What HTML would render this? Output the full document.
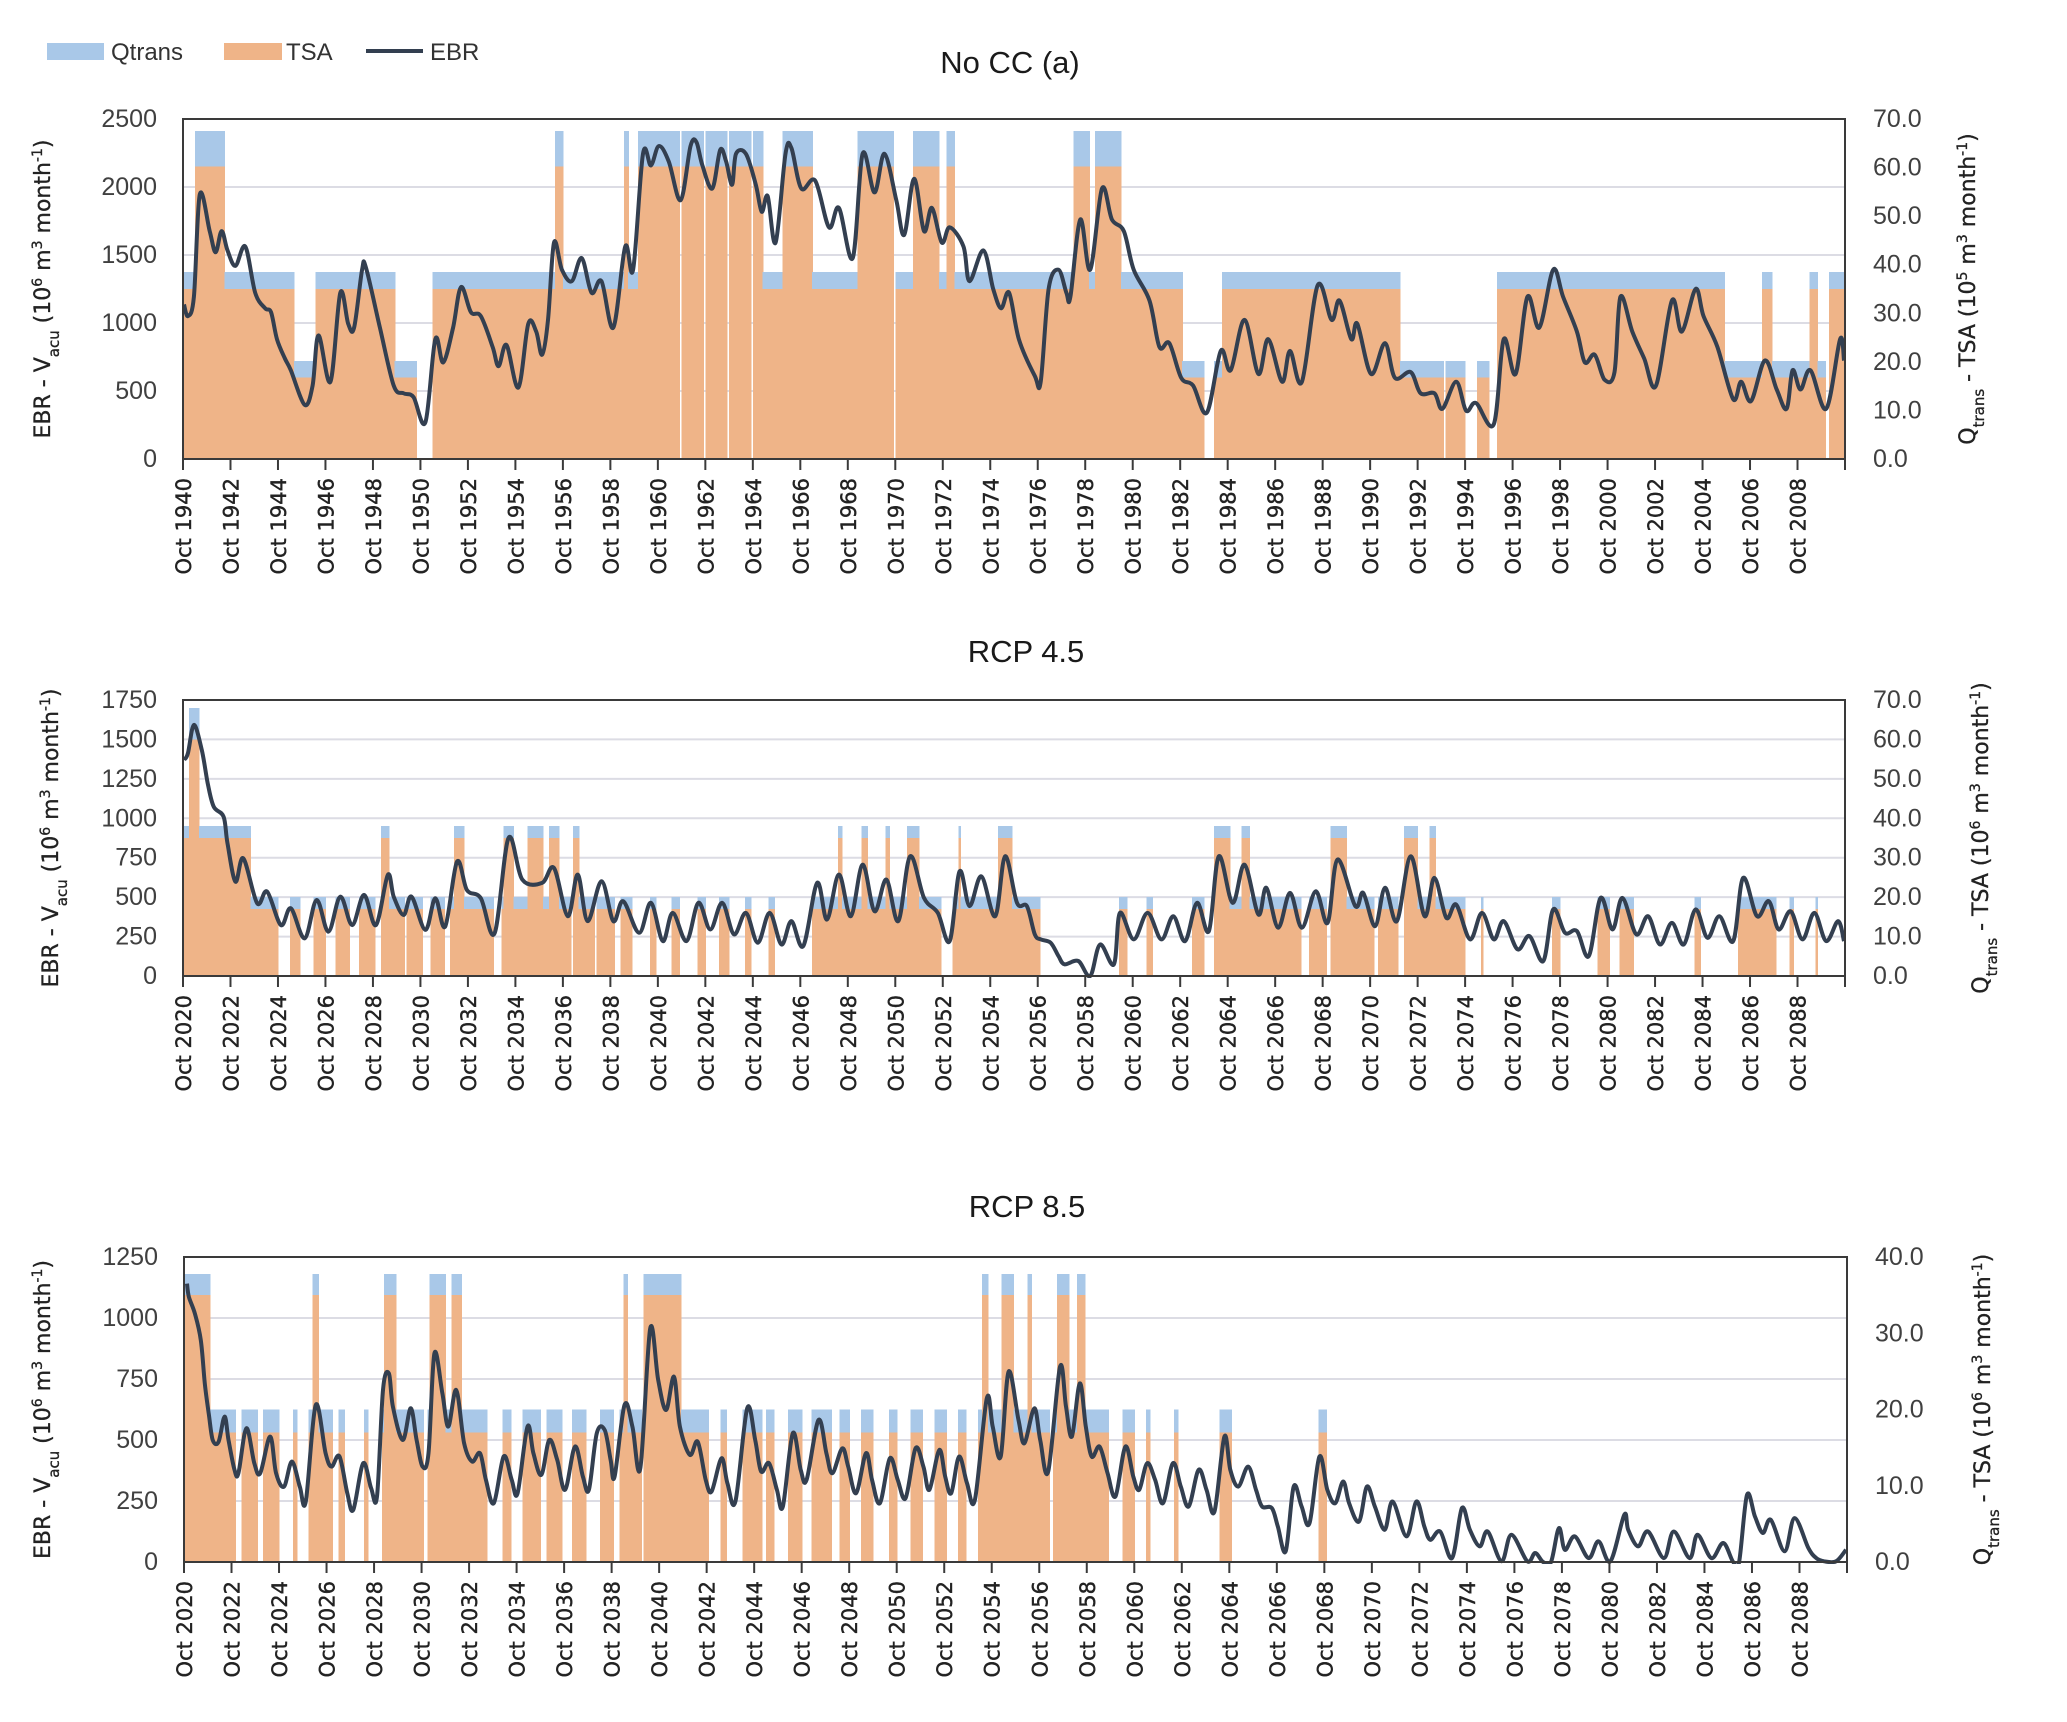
<!DOCTYPE html>
<html><head><meta charset="utf-8"><title>EBR charts</title>
<style>
html,body{margin:0;padding:0;background:#fff;}
svg{display:block;}
text{font-family:"Liberation Sans",sans-serif;fill:#333;}
.tick{font-size:25px;fill:#404040;}
.xl{font-family:"DejaVu Sans",sans-serif;font-size:21px;fill:#222;stroke:#222;stroke-width:0.4px;}
.ttl{font-size:31px;fill:#1a1a1a;}
.axt{font-family:"DejaVu Sans",sans-serif;font-size:22px;fill:#222;stroke:#222;stroke-width:0.3px;}
.leg{font-size:24px;fill:#333;}
</style></head>
<body>
<svg id="chart" width="2067" height="1722" viewBox="0 0 2067 1722" xmlns="http://www.w3.org/2000/svg">
  <g>
    <rect x="47" y="43" width="57" height="17" fill="#a9c8e8"/>
    <text class="leg" x="111" y="60">Qtrans</text>
    <rect x="224" y="43" width="58" height="17" fill="#efb488"/>
    <text class="leg" x="286" y="60">TSA</text>
    <line x1="366" y1="51" x2="423" y2="51" stroke="#333f50" stroke-width="4"/>
    <text class="leg" x="430" y="60">EBR</text>
  </g>
</svg>
<script>
// ---------- DATA ----------
const levelCodes = ['H','M','L'];
// panel 1: No CC (a)
const p1Years = [1940,1942,1944,1946,1948,1950,1952,1954,1956,1958,1960,1962,1964,1966,1968,1970,1972,1974,1976,1978,1980,1982,1984,1986,1988,1990,1992,1994,1996,1998,2000,2002,2004,2006,2008];
const p1LeftTicks = [0,500,1000,1500,2000,2500];
const p1RightTicks = [0,10,20,30,40,50,60,70];
const p1TsaLevel = [60.2,35,16.8];
const p1QLevel = [67.5,38.5,20.2];
const p1Runs = [[0,5,'M'],[6,20,'H'],[21,55,'M'],[56,66,'L'],[67,106,'M'],[107,117,'L'],[126,187,'M'],[188,191,'H'],[192,222,'M'],[223,224,'H'],[225,229,'M'],[230,250,'H'],[252,262,'H'],[264,274,'H'],[276,286,'H'],[288,292,'H'],[293,302,'M'],[303,317,'H'],[318,340,'M'],[341,358,'H'],[360,368,'M'],[369,381,'H'],[382,385,'M'],[386,389,'H'],[390,449,'M'],[450,457,'H'],[458,460,'M'],[461,473,'H'],[474,504,'M'],[505,515,'L'],[521,524,'L'],[525,614,'M'],[615,636,'L'],[638,647,'L'],[654,659,'L'],[664,778,'M'],[779,797,'L'],[798,802,'M'],[803,821,'L'],[822,825,'M'],[826,829,'L'],[832,839,'M']];
const p1EbrMonth = [0,2,5,8,13,16,19,22,26,31,36,41,44,47,51,54,61,65,68,74,79,83,86,90,92,99,106,111,116,122,127,131,136,140,145,150,156,159,163,169,174,178,181,184,187,191,196,201,206,211,217,223,227,232,236,240,245,251,256,259,262,267,271,274,277,279,284,289,292,295,299,304,307,312,319,326,331,338,343,349,354,360,364,369,374,378,383,387,394,397,404,409,413,417,422,430,433,437,442,446,448,453,458,464,469,475,480,488,493,498,504,510,517,524,529,536,543,548,555,559,565,573,580,584,590,593,600,607,612,620,625,632,636,643,648,653,662,667,673,679,685,692,697,704,708,713,718,723,726,732,738,744,752,757,764,768,775,783,787,792,799,805,810,813,817,822,830,837,839];
const p1EbrValue = [1136,1051,1193,1946,1676,1520,1676,1534,1420,1562,1222,1108,1080,880,739,653,398,540,909,568,1222,994,966,1392,1406,966,540,483,455,270,881,710,966,1264,1080,1051,824,682,838,526,994,937,767,1023,1591,1392,1307,1477,1222,1307,966,1562,1392,2244,2159,2301,2188,1903,2301,2330,2159,1989,2273,2188,2017,2244,2244,2017,1818,1932,1591,2244,2287,1989,2046,1704,1846,1477,2244,1960,2244,1903,1648,2060,1676,1846,1591,1704,1562,1307,1534,1250,1108,1222,880,611,568,1250,1392,1222,1193,1761,1392,1989,1761,1676,1392,1165,824,852,597,540,341,795,653,1023,625,881,568,795,568,1278,1023,1165,881,994,625,852,597,639,483,483,369,568,355,412,256,881,625,1193,966,1392,1193,937,710,767,582,639,1193,937,739,540,1165,937,1250,1051,824,440,568,426,724,511,369,653,511,653,369,881,724];

// panel 2: RCP 4.5
const p2Years = [2020,2022,2024,2026,2028,2030,2032,2034,2036,2038,2040,2042,2044,2046,2048,2050,2052,2054,2056,2058,2060,2062,2064,2066,2068,2070,2072,2074,2076,2078,2080,2082,2084,2086,2088];
const p2LeftTicks = [0,250,500,750,1000,1250,1500,1750];
const p2RightTicks = [0,10,20,30,40,50,60,70];
const p2TsaLevel = [60,35,17];
const p2QLevel = [68,38,20];
const p2Runs = [[0,2,'M'],[3,7,'H'],[8,33,'M'],[34,47,'L'],[54,58,'L'],[66,71,'L'],[77,83,'L'],[89,96,'L'],[100,103,'M'],[104,111,'L'],[113,120,'L'],[125,131,'L'],[135,136,'L'],[137,141,'M'],[142,156,'L'],[161,161,'L'],[162,166,'M'],[167,173,'L'],[174,181,'M'],[182,184,'L'],[185,189,'M'],[190,195,'L'],[197,199,'M'],[200,207,'L'],[209,217,'L'],[221,226,'L'],[236,238,'L'],[247,250,'L'],[260,263,'L'],[271,275,'L'],[284,286,'L'],[296,298,'L'],[318,330,'L'],[331,332,'M'],[333,342,'L'],[343,345,'M'],[346,354,'L'],[355,356,'M'],[357,365,'L'],[366,371,'M'],[372,382,'L'],[389,391,'L'],[392,392,'M'],[393,411,'L'],[412,418,'M'],[419,432,'L'],[473,476,'L'],[487,489,'L'],[510,515,'L'],[521,528,'M'],[529,534,'L'],[535,538,'M'],[539,564,'L'],[569,577,'L'],[580,587,'M'],[588,601,'L'],[604,613,'L'],[617,623,'M'],[624,629,'L'],[630,632,'M'],[633,647,'L'],[656,656,'L'],[692,695,'L'],[715,720,'L'],[726,732,'L'],[764,766,'L'],[786,804,'L'],[812,813,'L'],[825,825,'L']];
const p2EbrMonth = [0,2,5,9,12,15,20,22,26,30,37,42,49,54,61,67,73,79,85,91,97,103,106,111,115,122,127,132,138,143,150,157,164,171,181,187,194,199,204,211,217,222,230,236,242,247,254,260,266,272,278,284,290,296,302,307,313,320,325,331,337,343,349,355,361,367,374,381,387,392,397,403,410,415,421,426,430,433,438,442,445,452,458,463,470,473,480,487,494,500,506,512,518,523,530,536,543,547,553,559,565,572,578,583,592,596,602,607,613,620,627,632,638,643,650,656,662,667,674,680,687,692,698,704,710,716,722,727,734,740,746,752,758,764,770,776,783,788,795,801,806,812,818,824,830,836,839];
const p2EbrValue = [1370,1412,1592,1433,1222,1074,1010,841,598,746,461,535,323,429,239,482,281,503,323,514,323,641,503,387,503,292,493,313,725,545,493,271,875,611,590,685,379,643,348,601,348,474,274,464,221,400,221,464,295,464,264,400,211,400,200,348,190,590,358,643,379,706,411,611,348,759,495,400,221,664,443,632,379,759,464,443,264,232,211,126,74,95,0,200,74,400,232,400,232,379,221,464,285,759,464,706,390,559,306,527,306,537,337,738,443,527,316,559,348,759,379,622,369,453,232,400,232,348,169,253,95,422,274,285,126,495,295,495,264,379,200,337,200,422,242,379,221,622,379,474,295,411,232,400,221,348,221];

// panel 3: RCP 8.5
const p3Years = p2Years.slice();
const p3LeftTicks = [0,250,500,750,1000,1250];
const p3RightTicks = [0,10,20,30,40];
const p3TsaLevel = [35,17,0];
const p3QLevel = [37.8,20,0];
const p3Runs = [[0,12,'H'],[13,25,'M'],[29,36,'M'],[40,47,'M'],[55,56,'M'],[63,64,'M'],[65,67,'H'],[68,74,'M'],[78,80,'M'],[91,92,'M'],[100,100,'M'],[101,106,'H'],[107,120,'M'],[123,123,'M'],[124,131,'H'],[132,134,'M'],[135,139,'H'],[140,152,'M'],[161,164,'M'],[171,179,'M'],[183,190,'M'],[196,202,'M'],[210,216,'M'],[220,221,'M'],[222,223,'H'],[224,230,'M'],[232,250,'H'],[251,264,'M'],[271,273,'M'],[282,291,'M'],[294,297,'M'],[305,311,'M'],[317,326,'M'],[331,335,'M'],[342,347,'M'],[356,359,'M'],[367,372,'M'],[379,384,'M'],[391,394,'M'],[401,402,'M'],[403,405,'H'],[406,412,'M'],[413,418,'H'],[419,425,'M'],[426,427,'H'],[428,436,'M'],[439,440,'M'],[441,446,'H'],[447,450,'M'],[451,454,'H'],[455,466,'M'],[474,479,'M'],[486,487,'M'],[500,501,'M'],[523,528,'M'],[573,576,'M']];
const p3EbrMonth = [1,2,5,8,10,12,14,17,20,22,25,27,31,35,38,43,46,50,54,58,61,66,71,74,78,82,85,90,94,97,100,103,105,110,114,117,120,123,126,130,133,137,141,145,149,152,156,161,165,168,173,176,180,184,188,192,197,201,204,208,212,215,217,222,226,230,235,239,243,247,250,255,259,263,266,271,274,278,284,288,291,295,299,302,307,311,314,320,324,327,332,335,339,344,347,351,356,360,364,369,373,376,381,384,387,391,395,399,405,408,412,416,421,424,429,432,436,442,445,448,452,455,458,462,466,470,475,479,482,486,490,494,499,503,507,512,516,520,525,528,532,537,541,544,549,552,556,560,564,568,573,577,581,585,588,593,597,601,606,610,617,622,626,629,634,640,645,649,654,658,665,670,678,682,686,690,694,697,702,709,714,720,727,729,734,739,747,752,760,764,771,777,782,785,789,793,797,801,808,813,820,824,828,834,839];
const p3EbrValue = [1141,1086,1018,909,732,609,500,493,596,500,378,364,548,405,364,514,364,309,412,309,248,643,446,391,433,282,214,405,303,269,705,773,637,500,630,500,391,446,855,691,555,705,487,412,446,337,241,433,337,282,555,446,357,500,419,296,473,350,296,528,541,419,350,643,555,384,957,746,623,759,555,439,493,337,289,425,323,248,630,500,371,405,296,228,528,378,337,582,446,364,466,391,282,446,337,241,425,337,262,466,391,296,459,350,282,432,323,255,671,555,432,780,582,487,630,500,371,800,637,514,732,555,432,473,364,269,473,350,296,405,337,241,405,309,228,378,296,207,514,378,309,391,296,228,221,146,44,309,228,159,432,296,241,330,241,166,309,228,132,248,105,248,146,91,125,16,221,132,64,125,3,112,3,37,0,0,139,50,105,16,85,3,194,132,64,125,16,125,16,112,16,78,0,0,275,187,119,173,44,180,57,16,3,3,50];

// ---------- RENDER ----------
const NS = 'http://www.w3.org/2000/svg';
const svg = document.getElementById('chart');
const N_MONTHS = 840;
function mk(tag, attrs, parent){
  const e = document.createElementNS(NS, tag);
  for (const k in attrs) e.setAttribute(k, attrs[k]);
  (parent || svg).appendChild(e);
  return e;
}
function supTspans(t, parts){
  parts.forEach(p => {
    const ts = document.createElementNS(NS,'tspan');
    if (p[1] === 'sup'){ ts.setAttribute('baseline-shift','super'); ts.setAttribute('font-size','14'); }
    if (p[1] === 'sub'){ ts.setAttribute('baseline-shift','sub'); ts.setAttribute('font-size','15'); }
    ts.textContent = p[0];
    t.appendChild(ts);
  });
}

function drawPanel(cfg){
  const g = mk('g', {});
  
  
  const L = cfg.left, R = cfg.right, T = cfg.top, B = cfg.bottom;
  const mw = (R - L) / N_MONTHS;
  const yL = v => B - v / cfg.leftMax * (B - T);
  const yR = v => B - v / cfg.rightMax * (B - T);
  const xM = m => L + m * mw;
  const xC = m => L + (m + 0.5) * mw;

  cfg.leftTicks.forEach(v => {
    if (v === 0) return;
    const gl = mk('line', {x1:L, x2:R, y1:yL(v), y2:yL(v), stroke:'#dcdce4', 'stroke-width':2}, g);
    
    
  });

  const tsa = new Array(N_MONTHS).fill(0), q = new Array(N_MONTHS).fill(0);
  cfg.runs.forEach(r => {
    const li = levelCodes.indexOf(r[2]);
    for (let m = r[0]; m <= r[1] && m < N_MONTHS; m++){ tsa[m] = cfg.tsaLevel[li]; q[m] = cfg.qLevel[li]; }
  });
  const bars = mk('g', {'shape-rendering':'crispEdges'}, g);
  
  
  for (let m = 0; m < N_MONTHS; m++){
    if (q[m] > 0){
      const bq = mk('rect', {x:xM(m), y:yR(q[m]), width:mw+0.6, height:B - yR(q[m]), fill:'#a9c8e8'}, bars);
      
      
    }
    if (tsa[m] > 0){
      const bt = mk('rect', {x:xM(m), y:yR(tsa[m]), width:mw+0.6, height:B - yR(tsa[m]), fill:'#efb488'}, bars);
      
      
    }
  }

  const pts = cfg.ebrMonth.map((m, i) => [xC(m), yL(cfg.ebrValue[i])]);
  let d = 'M' + pts[0][0].toFixed(1) + ',' + pts[0][1].toFixed(1);
  for (let i = 0; i < pts.length - 1; i++){
    const p0 = pts[Math.max(0,i-1)], p1 = pts[i], p2 = pts[i+1], p3 = pts[Math.min(pts.length-1,i+2)];
    const c1 = [p1[0] + (p2[0]-p0[0])/6, p1[1] + (p2[1]-p0[1])/6];
    const c2 = [p2[0] - (p3[0]-p1[0])/6, p2[1] - (p3[1]-p1[1])/6];
    d += 'C' + c1[0].toFixed(1)+','+c1[1].toFixed(1)+' '+c2[0].toFixed(1)+','+c2[1].toFixed(1)+' '+p2[0].toFixed(1)+','+p2[1].toFixed(1);
  }
  const clipId = cfg.name + '-clip';
  const cp = mk('clipPath', {id:clipId}, g);
  mk('rect', {x:L, y:T, width:R-L, height:B-T+2}, cp);
  const line = mk('path', {d:d, fill:'none', stroke:'#333f50', 'stroke-width':4, 'stroke-linejoin':'round', 'clip-path':'url(#'+clipId+')'}, g);
  
  

  const fr = mk('rect', {x:L, y:T, width:R-L, height:B-T, fill:'none', stroke:'#3a3a3a', 'stroke-width':2}, g);
  
  

  cfg.leftTicks.forEach(v => {
    const t = mk('text', {x:L-26, y:yL(v)+8, 'text-anchor':'end', class:'tick'}, g);
    t.textContent = String(v);
    
    
  });
  cfg.rightTicks.forEach(v => {
    const t = mk('text', {x:R+28, y:yR(v)+8, 'text-anchor':'start', class:'tick'}, g);
    t.textContent = v.toFixed(1);
    
    
  });
  cfg.years.forEach((yr, i) => {
    const m = i * 24;
    const tk = mk('line', {x1:xM(m), x2:xM(m), y1:B, y2:B+11, stroke:'#3a3a3a', 'stroke-width':2}, g);
    
    
    const x = xM(m) + 8, y = B + 19;
    const t = mk('text', {x:x, y:y, 'text-anchor':'end', class:'xl', transform:'rotate(-90 '+x+' '+y+')'}, g);
    t.textContent = 'Oct ' + yr;
    
    
  });
  const tkEnd = mk('line', {x1:R, x2:R, y1:B, y2:B+11, stroke:'#3a3a3a', 'stroke-width':2}, g);
  
  

  const tt = mk('text', {x:cfg.titleX, y:cfg.titleY, 'text-anchor':'middle', class:'ttl'}, g);
  tt.textContent = cfg.title;
  
  

  const cy = (T + B) / 2;
  const la = mk('text', {x:cfg.leftTitleX, y:cy, 'text-anchor':'middle', class:'axt', transform:'rotate(-90 '+cfg.leftTitleX+' '+cy+')'}, g);
  supTspans(la, [['EBR - V'],['acu','sub'],[' (10'],['6','sup'],[' m'],['3','sup'],[' month'],['-1','sup'],[')']]);
  
  
  const ra = mk('text', {x:cfg.rightTitleX, y:cy, 'text-anchor':'middle', class:'axt', transform:'rotate(-90 '+cfg.rightTitleX+' '+cy+')'}, g);
  supTspans(ra, [['Q'],['trans','sub'],[' - TSA (10'],[cfg.rightExp,'sup'],[' m'],['3','sup'],[' month'],['-1','sup'],[')']]);
  
  
}

drawPanel({name:'panel-no-cc', title:'No CC (a)', titleX:1010, titleY:73, left:183, right:1845, top:119, bottom:459,
  leftMax:2500, rightMax:70, leftTicks:p1LeftTicks, rightTicks:p1RightTicks, years:p1Years,
  runs:p1Runs, tsaLevel:p1TsaLevel, qLevel:p1QLevel, ebrMonth:p1EbrMonth, ebrValue:p1EbrValue,
  leftTitleX:50, rightTitleX:1975, rightExp:'5'});
drawPanel({name:'panel-rcp45', title:'RCP 4.5', titleX:1026, titleY:662, left:183, right:1845, top:700, bottom:976,
  leftMax:1750, rightMax:70, leftTicks:p2LeftTicks, rightTicks:p2RightTicks, years:p2Years,
  runs:p2Runs, tsaLevel:p2TsaLevel, qLevel:p2QLevel, ebrMonth:p2EbrMonth, ebrValue:p2EbrValue,
  leftTitleX:58, rightTitleX:1988, rightExp:'6'});
drawPanel({name:'panel-rcp85', title:'RCP 8.5', titleX:1027, titleY:1217, left:184, right:1847, top:1257, bottom:1562,
  leftMax:1250, rightMax:40, leftTicks:p3LeftTicks, rightTicks:p3RightTicks, years:p3Years,
  runs:p3Runs, tsaLevel:p3TsaLevel, qLevel:p3QLevel, ebrMonth:p3EbrMonth, ebrValue:p3EbrValue,
  leftTitleX:50, rightTitleX:1990, rightExp:'6'});
</script>
</body></html>
